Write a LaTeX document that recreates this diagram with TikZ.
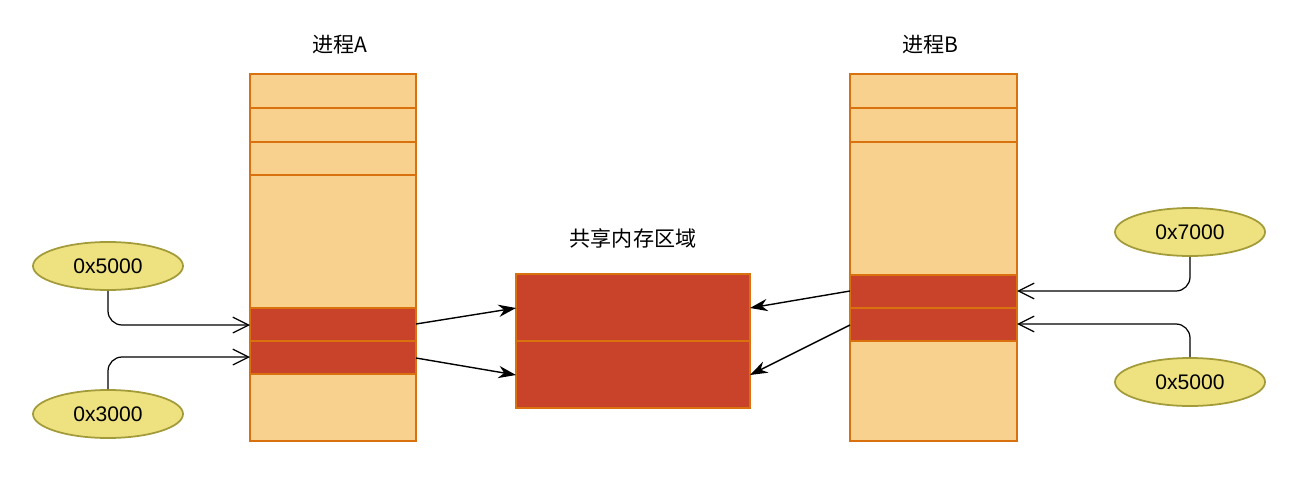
\documentclass[tikz,border=0pt]{standalone}
\usepackage{fontspec}
\setmainfont{Liberation Sans}
\newfontfamily\cjk{Noto Sans CJK SC}
\usetikzlibrary{arrows.meta,shapes.geometric}
\definecolor{lor}{HTML}{F9D18F}
\definecolor{bor}{HTML}{D9720E}
\definecolor{rd}{HTML}{C8432A}
\definecolor{ely}{HTML}{EEE280}
\definecolor{elb}{HTML}{A39B3A}
\begin{document}
\begin{tikzpicture}[x=0.02cm,y=-0.02cm,
  cell/.style={draw=bor,line width=1pt},
  ell/.style={draw=elb,fill=ely,ellipse,line width=1pt,minimum width=150*0.02cm,minimum height=48*0.02cm,font=\large},
  lab/.style={font=\cjk\large},
  open/.style={-{Straight Barb[length=9pt,width=9pt]},rounded corners=8pt,line width=0.7pt},
  solid/.style={-{Stealth[length=10pt,width=7pt]},line width=0.8pt}]
\useasboundingbox (0,0) rectangle (1300,500);
% process A
\fill[lor] (250,74) rectangle (416,441);
\fill[rd] (250,308) rectangle (416,374);
\foreach \y in {108,142,175,308,341,374} \draw[cell] (250,\y) -- (416,\y);
\draw[cell] (250,74) rectangle (416,441);
% process B
\fill[lor] (850,74) rectangle (1017,441);
\fill[rd] (850,275) rectangle (1017,341);
\foreach \y in {108,142,275,308,341} \draw[cell] (850,\y) -- (1017,\y);
\draw[cell] (850,74) rectangle (1017,441);
% shared
\fill[rd] (516,274) rectangle (750,408);
\draw[cell] (516,341) -- (750,341);
\draw[cell] (516,274) rectangle (750,408);
\node[lab] (la) at (340,45) {进程A};
\node[lab] (lb) at (930,45) {进程B};
\node[lab] (ls) at (633,238) {共享内存区域};
\coordinate (a1) at (250,325); \coordinate (a2) at (250,357);
\coordinate (b1) at (1017,291); \coordinate (b2) at (1017,324);
\coordinate (as1) at (416,324); \coordinate (as2) at (416,358);
\coordinate (bs1) at (850,291); \coordinate (bs2) at (850,325);
\coordinate (s1) at (516,308); \coordinate (s2) at (516,375);
\coordinate (t1) at (750,308); \coordinate (t2) at (750,375);
\node[ell] (e1) at (108,266) {0x5000};
\node[ell] (e2) at (108,414) {0x3000};
\node[ell] (e3) at (1190,232) {0x7000};
\node[ell] (e4) at (1190,382) {0x5000};
\draw[open] (e1.south) |- (a1);
\draw[open] (e2.north) |- (a2);
\draw[open] (e3.south) |- (b1);
\draw[open] (e4.north) |- (b2);
\draw[solid] (as1) -- (s1);
\draw[solid] (as2) -- (s2);
\draw[solid] (bs1) -- (t1);
\draw[solid] (bs2) -- (t2);
\end{tikzpicture}
\end{document}
